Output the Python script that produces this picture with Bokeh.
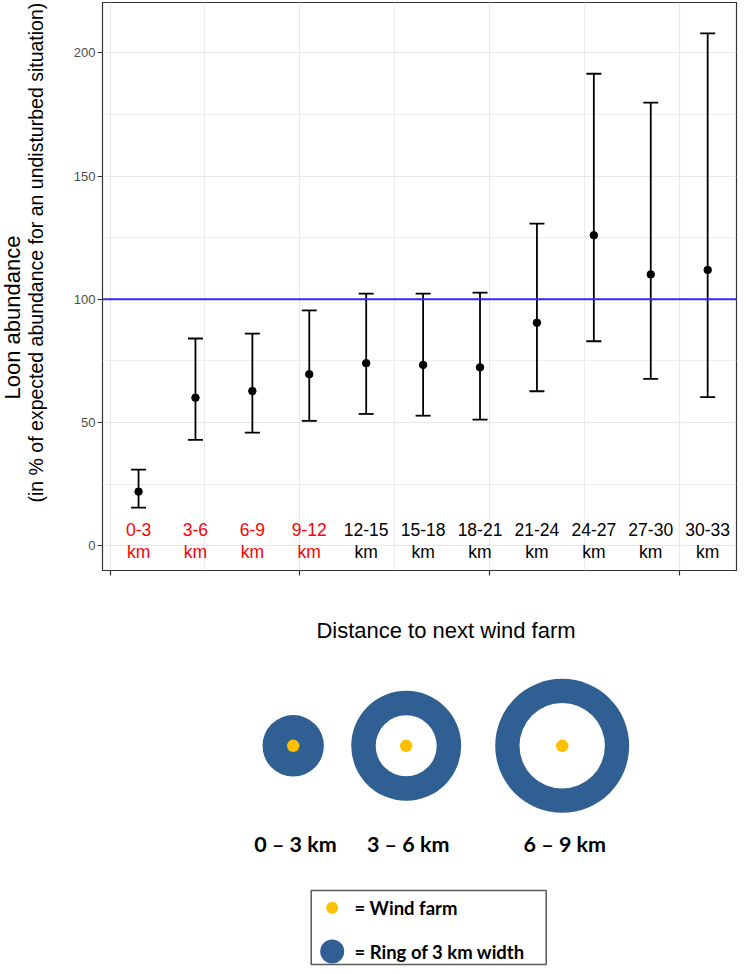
import math
from bokeh.plotting import figure
from bokeh.models import (ColumnDataSource, Range1d, FixedTicker, Whisker, TeeHead,
                          Span, CustomLabelingPolicy)
from bokeh.layouts import column, row
from bokeh.core.properties import value
from bokeh.embed import file_html
from bokeh.resources import INLINE

# ---------------- data ----------------
distance_labels = ["0-3", "3-6", "6-9", "9-12", "12-15", "15-18", "18-21",
                   "21-24", "24-27", "27-30", "30-33"]
distance_mid = [1.5, 4.5, 7.5, 10.5, 13.5, 16.5, 19.5, 22.5, 25.5, 28.5, 31.5]
abundance = [22.0, 60.1, 62.8, 69.6, 74.1, 73.4, 72.4, 90.5, 126.0, 110.1, 111.9]
ci_lower = [15.5, 43.0, 45.9, 50.7, 53.5, 52.8, 51.2, 62.7, 83.0, 67.7, 60.3]
ci_upper = [30.9, 84.1, 86.1, 95.5, 102.3, 102.3, 102.7, 130.7, 191.5, 179.8, 207.9]
label_colors = ["#ff0000"] * 4 + ["#000000"] * 7
y_ticks = [0, 50, 100, 150, 200]
y_minor = [25, 75, 125, 175]
x_ticks = [0, 10, 20, 30]
x_minor = [5, 15, 25]
reference_level = 100

y_title = ["Loon abundance",
           "(in % of expected abundance for an undisturbed situation)"]
x_title = "Distance to next wind farm"
ring_labels = ["0 \u2013 3 km", "3 \u2013 6 km", "6 \u2013 9 km"]
legend_labels = ["= Wind farm", "= Ring of 3 km width"]

FONT = "Liberation Sans"
BOLD_FONT = "Lato"
BLUE = "#2f5f93"
GOLD = "#ffc000"

W = 738
LEFT_W = 50
H1 = 595

# ---------------- y-axis title strip ----------------
t = figure(width=LEFT_W, height=H1, output_backend="svg", toolbar_location=None,
           x_range=Range1d(0, LEFT_W), y_range=Range1d(0, H1), min_border=0,
           x_axis_location=None, y_axis_location=None)
t.grid.visible = False
t.outline_line_color = None
t.text(x=[12], y=[H1 - 330], text=[y_title[0]], angle=math.pi / 2,
       text_font=value(FONT), text_font_size="22px", text_color="black",
       text_align="center", text_baseline="middle")
t.text(x=[35], y=[H1 - 262], text=[y_title[1]], angle=math.pi / 2,
       text_font=value(FONT), text_font_size="19.5px", text_color="black",
       text_align="center", text_baseline="middle")

# ---------------- main chart ----------------
p = figure(width=W - LEFT_W, height=H1, output_backend="svg", toolbar_location=None,
           x_range=Range1d(-0.40, 33.02), y_range=Range1d(-10.0, 220.4),
           min_border_left=102 - LEFT_W, min_border_right=2, min_border_top=2,
           min_border_bottom=H1 - 570)
p.background_fill_color = "white"
p.border_fill_color = "white"
p.outline_line_color = "#333333"
p.outline_line_width = 1.2

for g in (p.xgrid, p.ygrid):
    g.grid_line_color = "#e8e8e8"
    g.grid_line_width = 1.2
    g.minor_grid_line_color = "#ededed"
    g.minor_grid_line_width = 1.0

p.xaxis.ticker = FixedTicker(ticks=x_ticks, minor_ticks=x_minor)
p.yaxis.ticker = FixedTicker(ticks=y_ticks, minor_ticks=y_minor)
for ax in (p.xaxis, p.yaxis):
    ax.axis_line_color = None
    ax.major_tick_line_color = "#333333"
    ax.major_tick_line_width = 1.2
    ax.major_tick_in = 0
    ax.major_tick_out = 5
    ax.minor_tick_line_color = None
p.xaxis.major_label_policy = CustomLabelingPolicy(code="return []")
p.xaxis.major_label_text_font_size = "1px"
p.xaxis.major_label_standoff = 0
p.yaxis.major_label_text_font = FONT
p.yaxis.major_label_text_font_size = "13px"
p.yaxis.major_label_text_color = "#4d4d4d"
p.yaxis.major_label_standoff = 2

p.add_layout(Span(location=reference_level, dimension="width",
                  line_color="#2b2bff", line_width=2))

src = ColumnDataSource(dict(x=distance_mid, y=abundance, lower=ci_lower,
                            upper=ci_upper, lab=distance_labels,
                            km=["km"] * len(distance_labels), col=label_colors))
wh = Whisker(base="x", lower="lower", upper="upper", source=src,
             line_color="black", line_width=1.8,
             upper_head=TeeHead(size=15, line_width=1.8, line_color="black"),
             lower_head=TeeHead(size=15, line_width=1.8, line_color="black"))
p.add_layout(wh)
p.scatter("x", "y", source=src, size=7.5, color="black")

p.text(x="x", y=6.5, text="lab", source=src, text_color="col",
       text_font=value(FONT), text_font_size="17.5px",
       text_align="center", text_baseline="middle")
p.text(x="x", y=-2.3, text="km", source=src, text_color="col",
       text_font=value(FONT), text_font_size="17.5px",
       text_align="center", text_baseline="middle")

# ---------------- schematic below ----------------
H2 = 966 - H1
q = figure(width=W, height=H2, output_backend="svg", toolbar_location=None,
           x_range=Range1d(0, W), y_range=Range1d(966, H1),
           min_border=0, x_axis_location=None, y_axis_location=None)
q.grid.visible = False
q.outline_line_color = None
q.background_fill_color = "white"
q.border_fill_color = "white"

q.text(x=[445.5], y=[630], text=[x_title],
       text_font=value(FONT), text_font_size="22px", text_color="black",
       text_align="center", text_baseline="middle")

ring_x = [292.7, 405.7, 561.7]
ring_y = [745.3, 745.3, 745.3]
ring_inner = [0, 30.5, 42.7]
ring_outer = [30.7, 55.0, 67.0]
q.annulus(x=ring_x, y=ring_y, inner_radius=ring_inner, outer_radius=ring_outer,
          fill_color=BLUE, line_color=None)
q.circle(x=ring_x, y=ring_y, radius=6.2, fill_color=GOLD, line_color=None)
q.text(x=[295, 407.7, 564.3], y=[843, 843, 843], text=ring_labels,
       text_font=value(BOLD_FONT), text_font_style="bold", text_font_size="21.5px",
       text_color="black", text_align="center", text_baseline="middle")

# legend box
q.quad(left=[310.7], right=[545.7], top=[890], bottom=[964],
       fill_color=None, line_color="#595959", line_width=1.5)
q.circle(x=[331.7], y=[907.3], radius=6, fill_color=GOLD, line_color=None)
q.circle(x=[331.7], y=[951], radius=12, fill_color=BLUE, line_color=None)
q.text(x=[354, 354], y=[907, 951], text=legend_labels,
       text_font=value(BOLD_FONT), text_font_style="bold", text_font_size="18.5px",
       text_color="black", text_align="left", text_baseline="middle")

layout = column(row(t, p, spacing=0), q, spacing=0)
open("out.html", "w").write(file_html(layout, INLINE))
